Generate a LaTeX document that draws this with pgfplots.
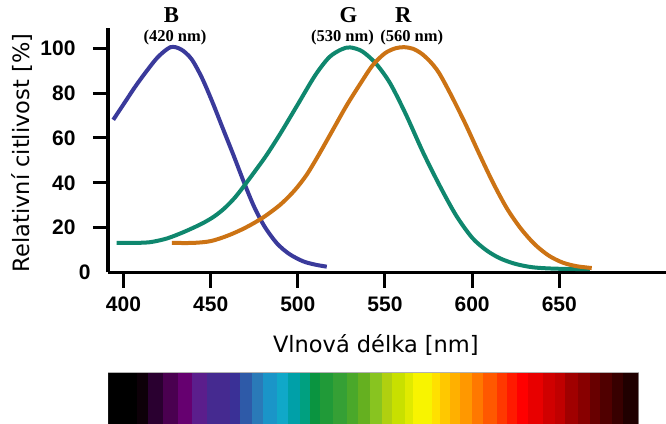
\documentclass[border=0pt]{standalone}
\usepackage{pgfplots}
\pgfplotsset{compat=1.18}
\usepackage{fontspec}
\setmainfont{Liberation Serif}
\setsansfont{Liberation Sans}
\newfontfamily\dejavu{DejaVu Sans}
\definecolor{cB}{RGB}{58,58,155}
\definecolor{cG}{RGB}{15,135,110}
\definecolor{cR}{RGB}{204,115,20}
\begin{document}
\begin{tikzpicture}
\useasboundingbox (0,0) rectangle (666bp,424bp);
\begin{axis}[
  at={(108bp,151.5bp)}, anchor=south west,
  scale only axis, width=558bp, height=244.5bp,
  xmin=391.1, xmax=711.2, ymin=0, ymax=109.05,
  axis lines=left,
  axis line style={-, line width=3bp, black},
  clip=false,
  xtick={400,450,...,650},
  ytick={20,40,...,100},
  extra y ticks={0},
  extra y tick style={major tick length=0pt},
  tick style={line width=3bp, black},
  major tick length=15bp,
  tick align=outside,
  /pgf/number format/assume math mode=true,
  ticklabel style={font=\fontsize{21bp}{21bp}\selectfont\sffamily\bfseries},
  xticklabel style={yshift=-6bp},
  yticklabel style={xshift=-14bp},
  xlabel={Vlnová délka [nm]},
  ylabel={Relativní citlivost [\%]},
  label style={font=\fontsize{22.5bp}{24bp}\selectfont\dejavu},
  xlabel style={at={(axis description cs:0.48,-0.2965)}, anchor=center},
  ylabel style={at={(axis description cs:-0.1541,0.489)}, anchor=center},
]
\addplot[cB, line width=4bp, smooth, tension=0.5] coordinates {
(394.1,68.1) (400,75) (407,83.2) (414,90.6) (420,96.3) (427,100.5)
(433,99.5) (439,95.2) (445,86.8) (451,76) (457,64.2) (463,52.5)
(469,40.4) (475,29.2) (481,20.4) (488,13) (495,8.3) (503,5.0) (510,3.5)
(516.6,2.6)
};
\addplot[cG, line width=4bp, smooth, tension=0.5] coordinates {
(396,13.2) (405,13.2) (415,13.5) (425,15.2) (435,18.2) (445,21.8)
(452,25) (458,28.7) (464,33.5) (470,39.5) (476,45.8) (482,52.3)
(490,62) (500,75) (510,88) (518,96)
(525,99.5) (530,100.4) (537,98.6) (545,93) (553,84.3) (562,70.5)
(572,53.3) (582,37.8) (591,25.2) (600,15.5) (608,10) (616,6.3)
(625,3.8) (635,2.3) (648,1.7) (667.6,1.5)
};
\addplot[cR, line width=4bp, smooth, tension=0.5] coordinates {
(427.7,13.2) (440,13.2) (450,14) (460,16.5) (470,20) (480,24.5)
(490,30.3) (498,36.5) (505,43.5) (512,52.5) (520,63.5) (528,74.5)
(536,84.4) (543,92.5) (550,97.8) (556,100) (561,100.5) (566,99.8)
(571,97.6) (576,94) (581,89) (588,79) (596,66.5) (604,53) (612,40) (620,28.5)
(628,19.5) (636,12.5) (644,7.5) (652,4.4) (660,2.8) (668.6,2)
};
\node[font=\fontsize{22.7bp}{23bp}\selectfont\bfseries] at (axis cs:427.5,114.9) {B};
\node[font=\fontsize{16.5bp}{17bp}\selectfont\bfseries] at (axis cs:429.5,104.8) {(420 nm)};
\node[font=\fontsize{22.7bp}{23bp}\selectfont\bfseries] at (axis cs:529,114.9) {G};
\node[font=\fontsize{16.5bp}{17bp}\selectfont\bfseries] at (axis cs:525.6,104.8) {(530 nm)};
\node[font=\fontsize{22.7bp}{23bp}\selectfont\bfseries] at (axis cs:560.5,114.9) {R};
\node[font=\fontsize{16.5bp}{17bp}\selectfont\bfseries] at (axis cs:565.3,104.8) {(560 nm)};
\end{axis}
\begin{axis}[
  at={(108.3bp,0bp)}, anchor=south west,
  scale only axis, width=530bp, height=51.3bp,
  xmin=108.3, xmax=638.3, ymin=0, ymax=1,
  xtick=\empty, ytick=\empty,
  axis line style={gray!60, line width=0.8bp},
  colormap={spectrum}{
    rgb255=(0,0,0) rgb255=(13,0,8) rgb255=(42,0,48) rgb255=(74,0,80)
    rgb255=(102,0,112) rgb255=(91,30,140) rgb255=(69,42,144) rgb255=(58,48,150)
    rgb255=(46,90,168) rgb255=(42,122,184) rgb255=(26,149,200) rgb255=(16,168,200)
    rgb255=(0,160,168) rgb255=(0,160,128) rgb255=(10,148,64) rgb255=(32,154,56)
    rgb255=(53,160,53) rgb255=(74,168,42) rgb255=(101,176,32) rgb255=(136,196,32)
    rgb255=(176,208,16) rgb255=(200,224,0) rgb255=(224,234,0) rgb255=(248,244,0)
    rgb255=(255,224,0) rgb255=(255,200,0) rgb255=(255,176,0) rgb255=(255,152,0)
    rgb255=(255,120,0) rgb255=(255,88,0) rgb255=(255,56,0) rgb255=(255,26,0)
    rgb255=(255,0,0) rgb255=(232,0,0) rgb255=(208,0,0) rgb255=(192,0,0)
    rgb255=(160,0,0) rgb255=(136,0,0) rgb255=(104,0,0) rgb255=(80,0,0)
    rgb255=(56,0,0) rgb255=(32,0,0)
  },
  colormap access=direct,
]
\addplot[surf, shader=flat corner, point meta=explicit] table[meta=c] {
x y c
108.3 0 0
136.7 0 1
148.3 0 2
163.3 0 3
178.3 0 4
191.7 0 5
206.7 0 6
230 0 7
240 0 8
251.7 0 9
263.3 0 10
276.7 0 11
288.3 0 12
300 0 13
310 0 14
320 0 15
333.3 0 16
346.7 0 17
358.3 0 18
370 0 19
381.7 0 20
391.7 0 21
405 0 22
413.3 0 23
431.7 0 24
440 0 25
450 0 26
460 0 27
471.7 0 28
483.3 0 29
496.7 0 30
506.7 0 31
516.7 0 32
528.3 0 33
543.3 0 34
555 0 35
565 0 36
578.3 0 37
590 0 38
600 0 39
611.7 0 40
623.3 0 41
638.3 0 41

108.3 1 0
136.7 1 1
148.3 1 2
163.3 1 3
178.3 1 4
191.7 1 5
206.7 1 6
230 1 7
240 1 8
251.7 1 9
263.3 1 10
276.7 1 11
288.3 1 12
300 1 13
310 1 14
320 1 15
333.3 1 16
346.7 1 17
358.3 1 18
370 1 19
381.7 1 20
391.7 1 21
405 1 22
413.3 1 23
431.7 1 24
440 1 25
450 1 26
460 1 27
471.7 1 28
483.3 1 29
496.7 1 30
506.7 1 31
516.7 1 32
528.3 1 33
543.3 1 34
555 1 35
565 1 36
578.3 1 37
590 1 38
600 1 39
611.7 1 40
623.3 1 41
638.3 1 41
};
\end{axis}
\end{tikzpicture}
\end{document}
